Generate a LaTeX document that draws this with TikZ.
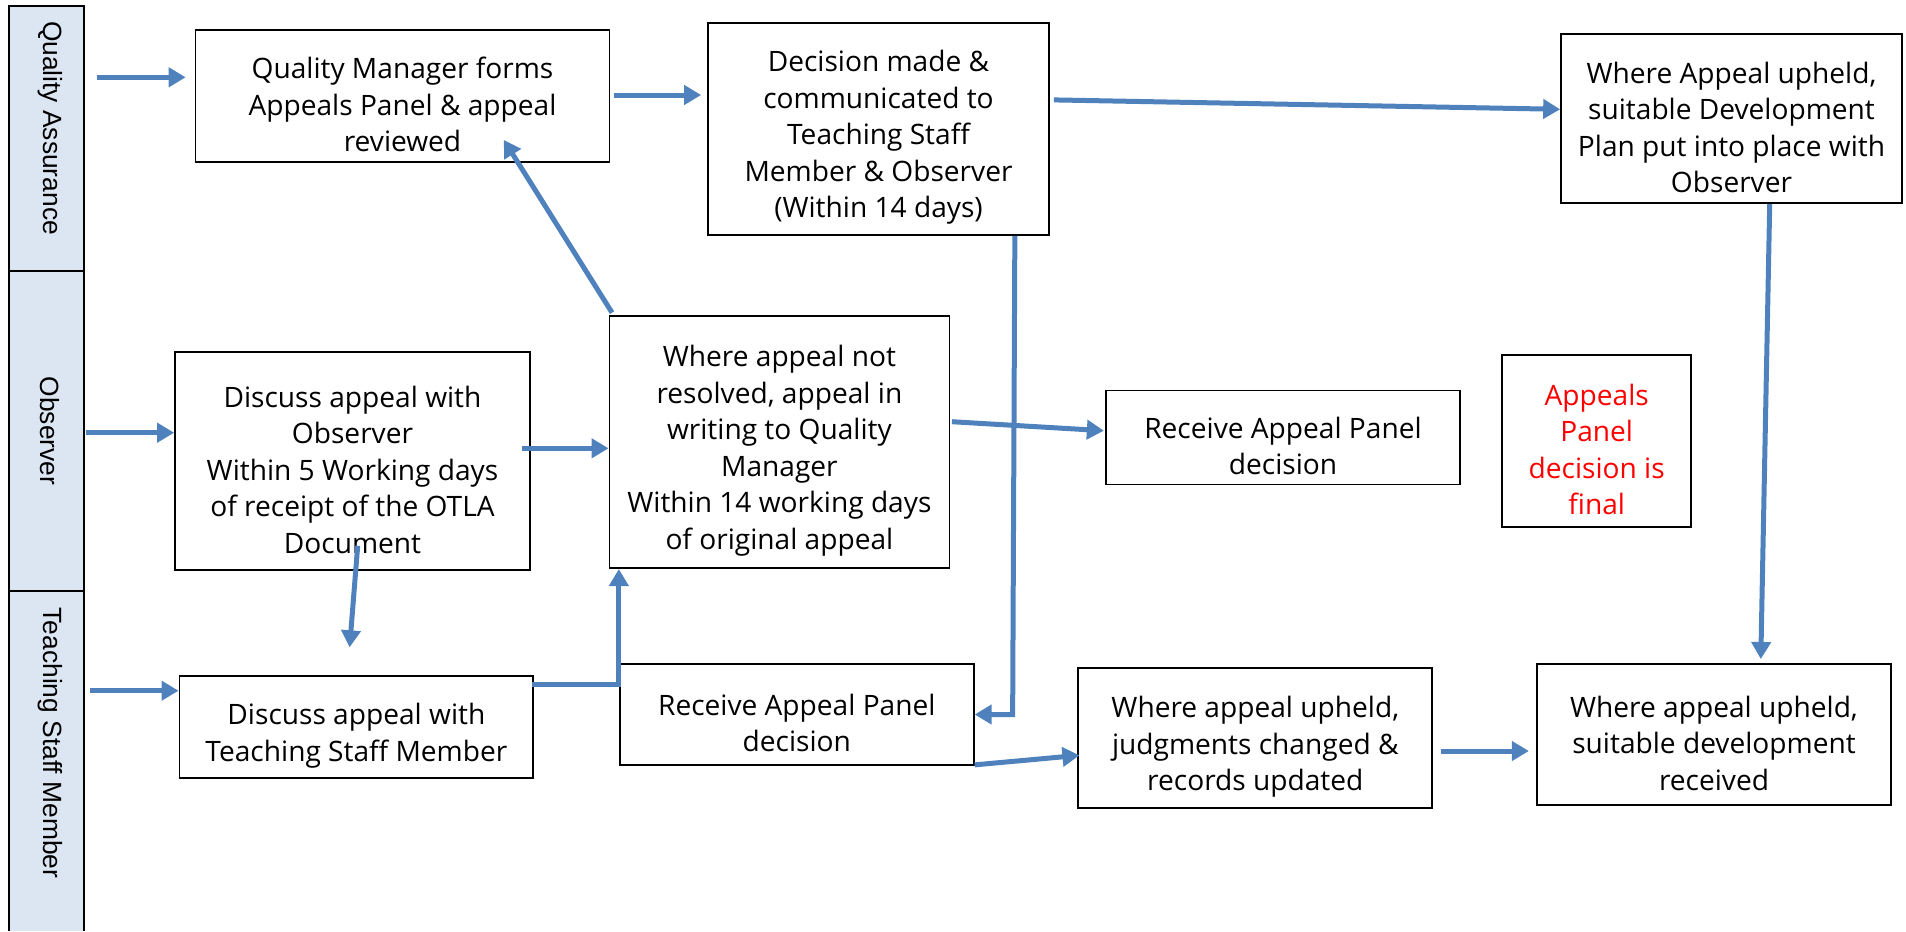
\documentclass[tikz,border=0pt]{standalone}
\usepackage{fontspec}
\setmainfont{Open Sans}
\newfontfamily\lanefont{Liberation Sans}
\usetikzlibrary{arrows.meta,calc}
\definecolor{flowblue}{RGB}{79,129,189}
\definecolor{lanefill}{RGB}{220,230,242}
\definecolor{finalred}{RGB}{255,0,0}
\newcommand{\boxgap}{\rule{0pt}{22pt}}

\begin{document}
\begin{tikzpicture}[x=0.02cm,y=-0.02cm,
	box/.style={draw,line width=1pt,align=center,inner sep=0pt,font=\fontsize{16}{20.8}\selectfont},
	flow/.style={draw=flowblue,line width=0.1cm,-{Triangle[length=0.34cm,width=0.38cm]}},
	lane/.style={fill=lanefill,draw,line width=1pt},
	lanetxt/.style={rotate=-90,font=\lanefont\fontsize{15}{18}\selectfont}]
	\useasboundingbox (0,0) rectangle (1906,931);

	\draw[lane] (9,5.7) rectangle (84,270.7);
	\draw[lane] (9,270.7) rectangle (84,591);
	\fill[lanefill] (9,591) rectangle (84,931);
	\draw[line width=1pt] (9,931) -- (9,591) -- (84,591) -- (84,931);
	\node[lanetxt](QA) at (50,128){Quality Assurance};
	\node[lanetxt](Obs) at (50,431){Observer};
	\node[lanetxt](TSM) at (50,743){Teaching Staff Member};

	\node[box,minimum width=8.28cm,minimum height=2.64cm](QM) at (402.5,96){\boxgap Quality Manager forms\\Appeals Panel \& appeal\\reviewed};
	\node[box,minimum width=6.82cm,minimum height=4.24cm](Dec) at (878.5,128.9){\boxgap Decision made \&\\communicated to\\Teaching Staff\\Member \& Observer\\(Within 14 days)};
	\node[box,minimum width=6.82cm,minimum height=3.38cm](Upheld) at (1731.5,118.7){\boxgap Where Appeal upheld,\\suitable Development\\Plan put into place with\\Observer};
	\node[box,minimum width=7.10cm,minimum height=4.36cm](DiscObs) at (352.5,460.9){\boxgap Discuss appeal with\\Observer\\Within 5 Working days\\of receipt of the OTLA\\Document};
	\node[box,minimum width=6.80cm,minimum height=5.04cm](NotRes) at (779.4,442.2){\boxgap Where appeal not\\resolved, appeal in\\writing to Quality\\Manager\\Within 14 working days\\of original appeal};
	\node[box,minimum width=7.08cm,minimum height=1.88cm](RecMid) at (1283,437.5){\boxgap Receive Appeal Panel\\decision};
	\node[box,text=finalred,minimum width=3.78cm,minimum height=3.44cm](Final) at (1596.7,440.9){\boxgap Appeals\\Panel\\decision is\\final};
	\node[box,minimum width=7.08cm,minimum height=2.04cm](DiscTSM) at (356.4,726.9){\boxgap Discuss appeal with\\Teaching Staff Member};
	\node[box,minimum width=7.08cm,minimum height=2.02cm](RecLow) at (796.8,714.5){\boxgap Receive Appeal Panel\\decision};
	\node[box,minimum width=7.08cm,minimum height=2.80cm](Judg) at (1255.3,738.3){\boxgap Where appeal upheld,\\judgments changed \&\\records updated};
	\node[box,minimum width=7.08cm,minimum height=2.82cm](DevRec) at (1714,734.7){\boxgap Where appeal upheld,\\suitable development\\received};

	\coordinate(QAin) at (97,77.3);
	\coordinate(Obsin) at (86,432.7);
	\coordinate(TSMin) at (90,690.7);

	\draw[flow] (QAin) -- ($(QAin -| QM.west)+(-9,0)$);
	\draw[flow] (Obsin) -- (Obsin -| DiscObs.west);
	\draw[flow] (TSMin) -- (TSMin -| DiscTSM.west);
	\draw[flow] ($(QM.east)+(3.4,-1)$) -- ($(Dec.west)+(-6,-33.9)$);
	\draw[flow] ($(Dec.east)+(4,-29)$) -- ($(Upheld.west)+(0,-9.4)$);
	\draw[flow] ($(NotRes.north west)+(3.5,-2.7)$) -- ($(QM.south east)+(-106.6,-23)$);
	\draw[flow] ($(DiscObs.east)+(-9,-12.6)$) -- ($(NotRes.west)+(0,6.1)$);
	\draw[flow] ($(DiscObs.south)+(5.2,-25)$) -- ($(DiscTSM.north)+(-6.8,-27.7)$);
	\draw[flow] ($(DiscTSM.north east)+(-2.4,9)$) -| ($(NotRes.south west)+(10.3,0)$);
	\draw[flow] ($(NotRes.east)+(1.7,-20.5)$) -- ($(RecMid.west)+(-1.3,-6.8)$);
	\draw[flow] ($(Dec.south east)+(-35,0)$) -- ($(RecLow.east)+(38,0)$) -- (RecLow.east);
	\draw[flow] ($(RecLow.south east)+(0,-1)$) -- ($(Judg.west)+(2,17)$);
	\draw[flow] ($(Judg.east)+(8,12.7)$) -- ($(DevRec.west)+(-7.3,16.3)$);
	\draw[flow] ($(Upheld.south)+(38.2,0)$) -- ($(DevRec.north)+(46.8,-4.3)$);
\end{tikzpicture}
\end{document}
